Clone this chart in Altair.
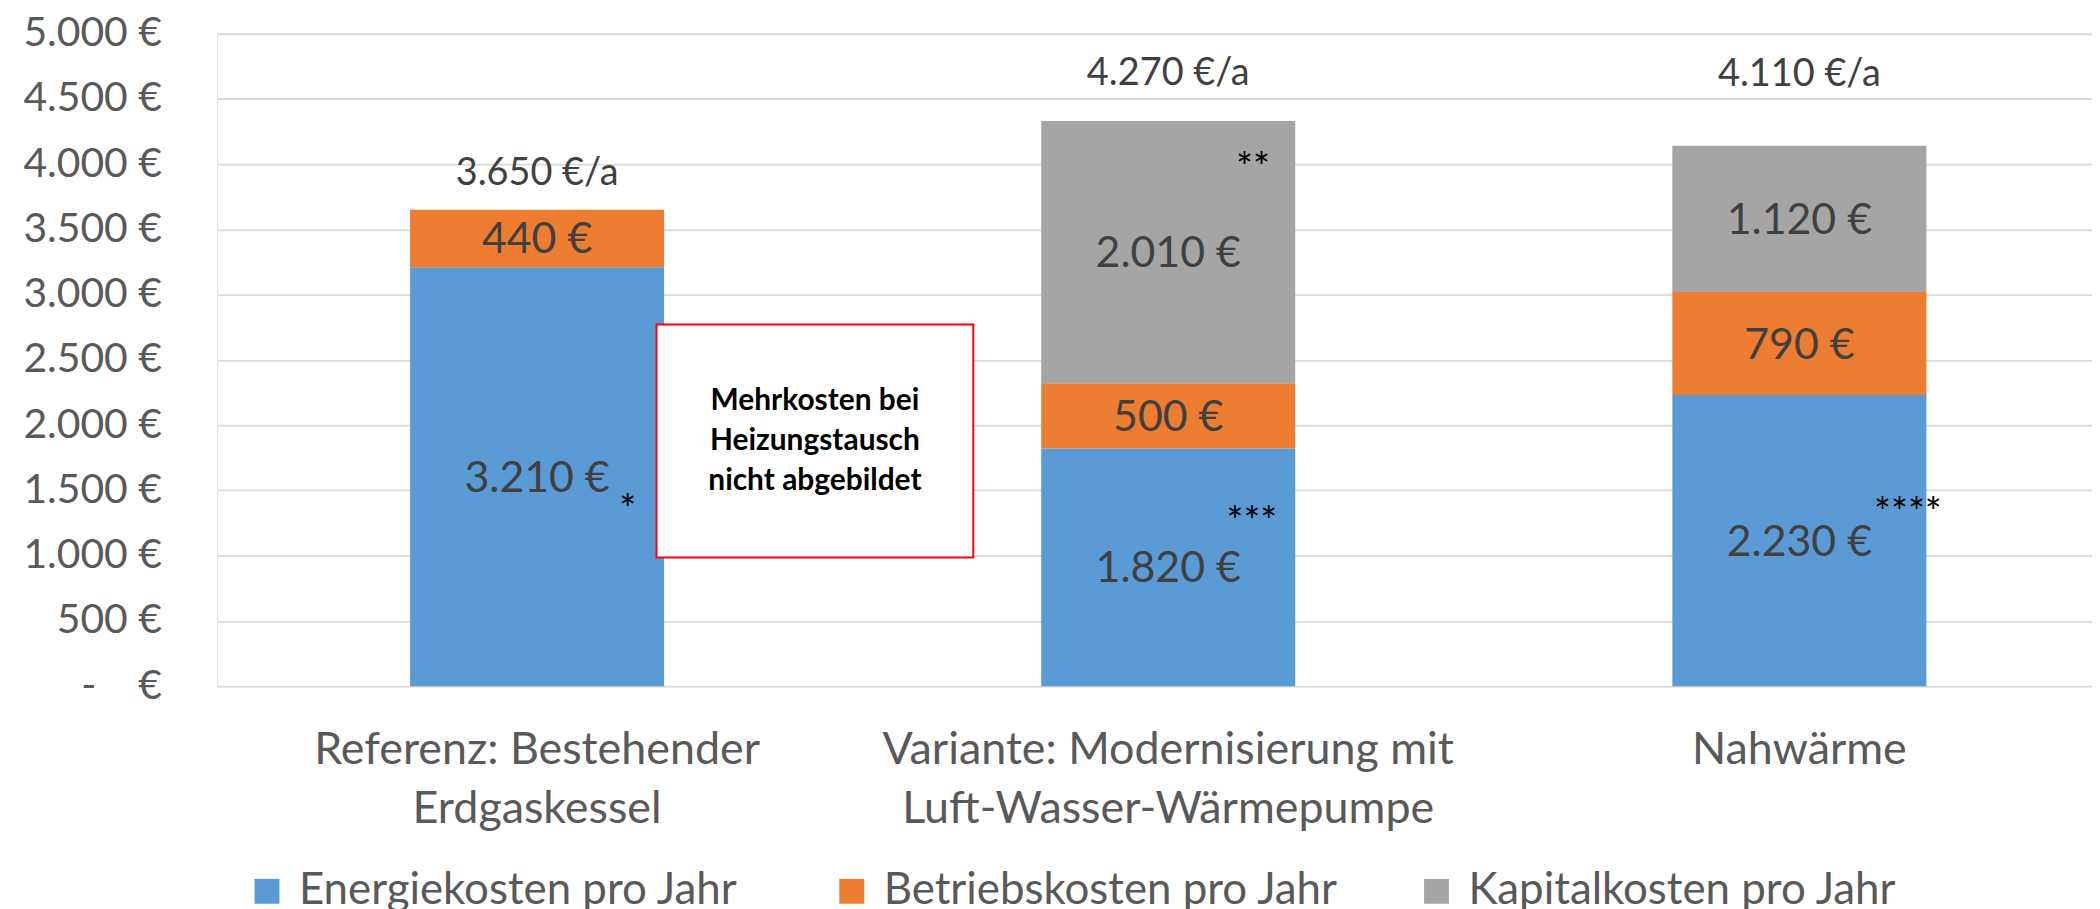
import altair as alt
import pandas as pd

# ---------------- data ----------------
categories = [
    "Referenz: Bestehender\nErdgaskessel",
    "Variante: Modernisierung mit\nLuft-Wasser-Wärmepumpe",
    "Nahwärme",
]
series = ["Energiekosten pro Jahr", "Betriebskosten pro Jahr", "Kapitalkosten pro Jahr"]
energiekosten = [3210, 1820, 2230]
betriebskosten = [440, 500, 790]
kapitalkosten = [0, 2010, 1120]
colors = ["#5B9BD5", "#ED7D31", "#A5A5A5"]

total_labels = ["3.650 €/a", "4.270 €/a", "4.110 €/a"]
total_label_at = [3930, 4695, 4690]          # y (data units) of the total labels

star_texts = ["*", "**", "***", "****"]
star_category = [0, 1, 1, 2]
star_at = [1427, 4046, 1336, 1405]           # y (data units) of the footnote stars
star_shift = [91, 85, 84, 109]               # horizontal shift from bar centre (px)

box_from, box_to = 985, 2771                 # note box, y range in data units
box_lines = ["Mehrkosten bei", "Heizungstausch", "nicht abgebildet"]

y_ticks = [0, 500, 1000, 1500, 2000, 2500, 3000, 3500, 4000, 4500, 5000]

# ---------------- tables ----------------
rows = []
for ci, cat in enumerate(categories):
    base = 0
    for si, (name, vals) in enumerate(zip(series, [energiekosten, betriebskosten, kapitalkosten])):
        v = vals[ci]
        if v <= 0:
            continue
        rows.append({
            "cat": cat, "series": name, "idx": si,
            "lo": base, "hi": base + v, "mid": base + v / 2,
            "label": f"{v:,}".replace(",", ".") + " €",
        })
        base += v
segs = pd.DataFrame(rows)
totals = pd.DataFrame({"cat": categories, "pos": total_label_at, "label": total_labels})

FONT = "Lato"
xscale = alt.Scale(domain=categories, paddingInner=0.5975, paddingOuter=0.284, align=0.538)
yscale = alt.Scale(domain=[0, 5000], nice=False)

x_enc = alt.X(
    "cat:N", sort=categories, scale=xscale, title=None,
    axis=alt.Axis(
        labelExpr="split(datum.label, '\\n')", labelAngle=0, labelFontSize=45,
        labelColor="#595959", labelLineHeight=59, labelPadding=42, labelLimit=1000,
        ticks=False, domain=False, grid=False, labelFont=FONT,
    ),
)

bars = alt.Chart(segs).mark_bar(strokeWidth=0).encode(
    x=x_enc,
    y=alt.Y(
        "lo:Q", scale=yscale, title=None,
        axis=alt.Axis(
            values=y_ticks,
            labelExpr="datum.value == 0 ? '-\u00a0\u00a0\u00a0\u00a0€' : replace(format(datum.value, ',.0f'), ',', '.') + ' €'",
            labelFontSize=41, labelColor="#595959", labelPadding=56, ticks=False,
            domain=False, gridColor="#d9d9d9", gridWidth=2, labelFont=FONT,
        ),
    ),
    y2="hi:Q",
    color=alt.Color(
        "series:N", scale=alt.Scale(domain=series, range=colors),
        legend=alt.Legend(
            title=None, orient="none", legendX=28, legendY=839, direction="horizontal",
            columns=3, gridAlign="all", columnPadding=76, symbolType="square",
            symbolSize=625, symbolStrokeWidth=0, symbolOpacity=1, labelFontSize=44,
            labelColor="#595959", labelOffset=10, labelLimit=1000, padding=0,
            labelFont=FONT,
        ),
    ),
    order=alt.Order("idx:Q", sort="ascending"),
)

seg_text = alt.Chart(segs).mark_text(
    fontSize=43, color="#404040", baseline="middle", align="center", font=FONT, dy=2
).encode(
    x=alt.X("cat:N", sort=categories, scale=xscale, title=None),
    y=alt.Y("mid:Q", scale=yscale, title=None),
    text="label:N",
)

tot_text = alt.Chart(totals).mark_text(
    fontSize=38, color="#404040", baseline="middle", align="center", font=FONT, dy=1
).encode(
    x=alt.X("cat:N", sort=categories, scale=xscale, title=None),
    y=alt.Y("pos:Q", scale=yscale, title=None),
    text="label:N",
)

star_layers = []
for t, c, v, s in zip(star_texts, star_category, star_at, star_shift):
    d = pd.DataFrame({"cat": [categories[c]], "pos": [v], "t": [t]})
    star_layers.append(
        alt.Chart(d).mark_text(
            fontSize=40, color="black", baseline="alphabetic", align="center",
            dx=s, dy=24, font=FONT,
        ).encode(
            x=alt.X("cat:N", sort=categories, scale=xscale, title=None),
            y=alt.Y("pos:Q", scale=yscale, title=None),
            text="t:N",
        )
    )

box_df = pd.DataFrame({"lo": [box_from], "hi": [box_to], "mid": [(box_from + box_to) / 2],
                       "txt": ["\n".join(box_lines)]})
box = alt.Chart(box_df).mark_rect(fill="white", stroke="#FF0000", strokeWidth=2).encode(
    x=alt.value(441), x2=alt.value(759),
    y=alt.Y("lo:Q", scale=yscale, title=None), y2="hi:Q",
)
box_text = alt.Chart(box_df).mark_text(
    fontSize=30, fontWeight="bold", color="black", lineBreak="\n", lineHeight=40,
    baseline="middle", align="center", font=FONT, dy=-40,
).encode(
    x=alt.value(600),
    y=alt.Y("mid:Q", scale=yscale, title=None),
    text="txt:N",
)

chart = alt.layer(bars, seg_text, tot_text, *star_layers, box, box_text).properties(
    width=1882, height=655,
    autosize=alt.AutoSizeParams(type="none"),
    padding={"left": 210, "top": 24, "right": 0, "bottom": 222},
).configure_view(stroke="transparent").configure(font=FONT, background="white")

chart.save("out.html", embed_options={"renderer": "svg", "actions": False})
